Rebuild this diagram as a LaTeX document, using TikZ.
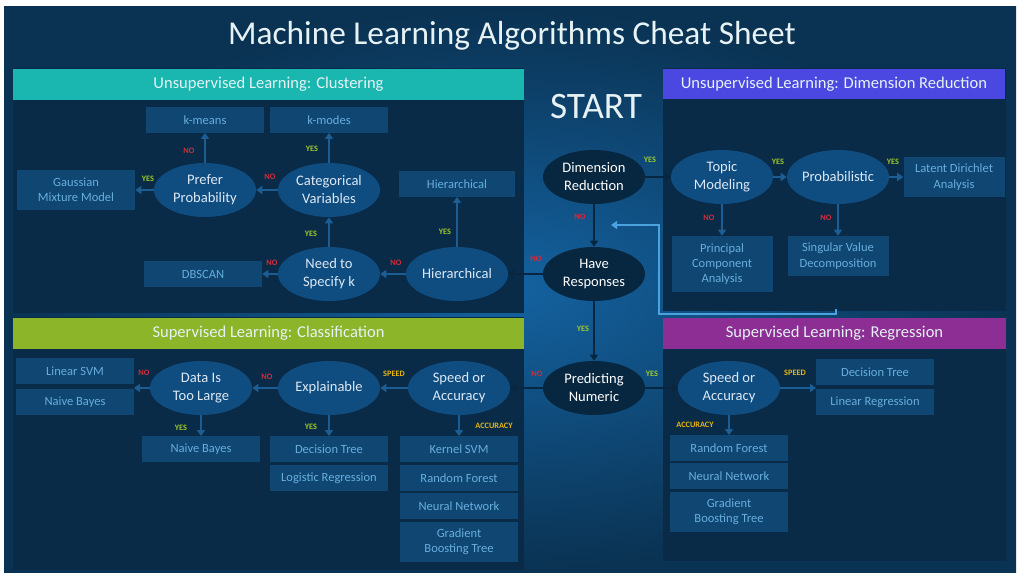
\documentclass[tikz,border=0pt]{standalone}
\usepackage{fontspec}
\setmainfont{Carlito}
\usetikzlibrary{shapes.geometric,arrows.meta}
\definecolor{bgdark}{HTML}{0A3252}
\definecolor{bgmid}{HTML}{1462A0}
\definecolor{panel}{HTML}{0A2B47}
\definecolor{boxfill}{HTML}{0F4672}
\definecolor{boxtext}{HTML}{68AEDE}
\definecolor{qfill}{HTML}{0F4C80}
\definecolor{qtext}{HTML}{DCE9F5}
\definecolor{hubfill}{HTML}{07263F}
\definecolor{flowblue}{HTML}{1C5D94}
\definecolor{fbblue}{HTML}{4AA3DE}
\definecolor{headtext}{HTML}{E6F2F4}
\definecolor{hteal}{HTML}{19B7AF}
\definecolor{hviolet}{HTML}{4A48E0}
\definecolor{hgreen}{HTML}{8DB52A}
\definecolor{hmagenta}{HTML}{8C2E94}
\definecolor{yescol}{HTML}{9CC92B}
\definecolor{nocol}{HTML}{D42B3C}
\definecolor{pickcol}{HTML}{E6B50E}

\begin{document}
\begin{tikzpicture}[x=0.75pt,y=-0.75pt]
	\tikzstyle{every node}+=[inner sep=0pt]
	\tikzstyle{algo}=[fill=boxfill, text=boxtext, minimum width=88.5pt, minimum height=19pt, align=center, font=\fontsize{9.4}{11.5}\selectfont]
	\tikzstyle{algotall}=[algo, minimum height=30pt]
	\tikzstyle{question}=[ellipse, fill=qfill, text=qtext, minimum width=76.5pt, minimum height=40.5pt, align=center, font=\fontsize{10.9}{13.5}\selectfont]
	\tikzstyle{hub}=[question, fill=hubfill, text=white]
	\tikzstyle{header}=[minimum height=23pt, text=headtext, font=\fontsize{12.4}{14}\selectfont]
	\tikzstyle{flow}=[draw=flowblue, line width=1.1pt, -{Triangle[length=4.5pt,width=6pt]}]
	\tikzstyle{hubflow}=[flow, draw=hubfill]
	\tikzstyle{feedback}=[draw=fbblue, line width=1.1pt, -{Triangle[length=4.5pt,width=6pt]}]
	\tikzstyle{yes}=[text=yescol, font=\bfseries\fontsize{6.2}{7}\selectfont]
	\tikzstyle{no}=[yes, text=nocol]
	\tikzstyle{pick}=[yes, text=pickcol]

	\useasboundingbox (0,0) rectangle (1024,580);
	\fill[white] (0,0) rectangle (1024,580);
	\shade[inner color=bgmid, outer color=bgdark] (4,7) rectangle (1016,572);

	\fill[panel] (13,68) rectangle (524,313);
	\fill[panel] (663,68) rectangle (1006,311);
	\fill[panel] (13,317) rectangle (524,570);
	\fill[panel] (663,318) rectangle (1006,561);

	\node[header, fill=hteal, minimum width=383.25pt] (hclust) at (268.5,84.5) {Unsupervised Learning: Clustering};
	\node[header, fill=hviolet, minimum width=256.5pt] (hdim) at (834,84) {Unsupervised Learning: Dimension Reduction};
	\node[header, fill=hgreen, minimum width=383.25pt] (hcls) at (268.5,333.5) {Supervised Learning: Classification};
	\node[header, fill=hmagenta, minimum width=257.25pt] (hreg) at (834.5,333.5) {Supervised Learning: Regression};

	\node[text=headtext, font=\fontsize{25}{30}\selectfont] (title) at (512,36) {Machine Learning Algorithms Cheat Sheet};
	\node[text=headtext, font=\fontsize{28}{32}\selectfont] (start) at (596,107) {START};

	\node[hub] (dimred) at (594,177) {Dimension\\Reduction};
	\node[hub] (haveresp) at (594,274) {Have\\Responses};
	\node[hub] (predict) at (594,388) {Predicting\\Numeric};

	\node[algo] (kmeans) at (205,120) {k-means};
	\node[algo] (kmodes) at (329,120) {k-modes};
	\node[algotall] (gmm) at (76,190) {Gaussian\\Mixture Model};
	\node[question] (prefer) at (205,190) {Prefer\\Probability};
	\node[question] (categ) at (329,190) {Categorical\\Variables};
	\node[algo, minimum width=87pt] (hierbox) at (457,184) {Hierarchical};
	\node[question] (needk) at (329,274) {Need to\\Specify k};
	\node[question] (hierq) at (457,274) {Hierarchical};
	\node[algo] (dbscan) at (203,274) {DBSCAN};

	\node[question] (topic) at (722,177) {Topic\\Modeling};
	\node[question] (prob) at (838,177) {Probabilistic};
	\node[algotall, minimum width=75.75pt] (lda) at (954,177) {Latent Dirichlet\\Analysis};
	\node[algo, minimum width=75.75pt, minimum height=42pt] (pca) at (722,264) {Principal\\Component\\Analysis};
	\node[algotall, minimum width=75.75pt] (svd) at (838,256) {Singular Value\\Decomposition};

	\node[algo] (linsvm) at (75,371) {Linear SVM};
	\node[algo] (nbleft) at (75,402) {Naive Bayes};
	\node[question] (datalarge) at (201,388) {Data Is\\Too Large};
	\node[question] (explain) at (329,388) {Explainable};
	\node[question] (speedcls) at (459,388) {Speed or\\Accuracy};
	\node[algo] (nbmid) at (201,449) {Naive Bayes};
	\node[algo] (dtcls) at (329,449) {Decision Tree};
	\node[algo] (logreg) at (329,478) {Logistic Regression};
	\node[algo] (kernel) at (459,449) {Kernel SVM};
	\node[algo] (rfcls) at (459,478) {Random Forest};
	\node[algo] (nncls) at (459,506) {Neural Network};
	\node[algotall] (gbtcls) at (459,542) {Gradient\\Boosting Tree};

	\node[question] (speedreg) at (729,388) {Speed or\\Accuracy};
	\node[algo] (dtreg) at (875,372) {Decision Tree};
	\node[algo] (linreg) at (875,402) {Linear Regression};
	\node[algo] (rfreg) at (729,448) {Random Forest};
	\node[algo] (nnreg) at (729,476) {Neural Network};
	\node[algotall] (gbtreg) at (729,512) {Gradient\\Boosting Tree};

	\coordinate (clsgap) at (134,388);
	\coordinate (reggap) at (816,388);
	\coordinate (fbstart) at (836,309);
	\coordinate (fbend) at (611,225);

	\draw[flow] (prefer) -- (kmeans);
	\draw[flow] (prefer) -- (gmm);
	\draw[flow] (categ) -- (kmodes);
	\draw[flow] (categ) -- (prefer);
	\draw[flow] (needk) -- (categ);
	\draw[flow] (needk) -- (dbscan);
	\draw[flow] (hierq) -- (needk);
	\draw[flow] (hierq) -- (hierbox);

	\draw[hubflow] (dimred) -- (topic);
	\draw[hubflow] (dimred) -- (haveresp);
	\draw[hubflow] (haveresp) -- (hierq);
	\draw[hubflow] (haveresp) -- (predict);
	\draw[hubflow] (predict) -- (speedcls);
	\draw[hubflow] (predict) -- (speedreg);

	\draw[flow] (topic) -- (prob);
	\draw[flow] (prob) -- (lda);
	\draw[flow] (topic) -- (pca);
	\draw[flow] (prob) -- (svd);
	\draw[feedback] (fbstart) -- ++(0,5) -| (659,225) -- (fbend);

	\draw[flow] (speedcls) -- (explain);
	\draw[flow] (explain) -- (datalarge);
	\draw[flow] (datalarge) -- (clsgap);
	\draw[flow] (datalarge) -- (nbmid);
	\draw[flow] (explain) -- (dtcls);
	\draw[flow] (speedcls) -- (kernel);

	\draw[flow] (speedreg) -- (reggap);
	\draw[flow] (speedreg) -- (rfreg);

	\node[no] at (189,151) {NO};
	\node[yes] at (312,149) {YES};
	\node[yes] at (148,179) {YES};
	\node[no] at (270,177) {NO};
	\node[yes] at (311,234) {YES};
	\node[yes] at (445,232) {YES};
	\node[no] at (272,263) {NO};
	\node[no] at (396,263) {NO};

	\node[yes] at (650,160) {YES};
	\node[yes] at (778,162) {YES};
	\node[yes] at (893,162) {YES};
	\node[no] at (709,218) {NO};
	\node[no] at (826,218) {NO};
	\node[no] at (580,217) {NO};
	\node[no] at (536,259) {NO};

	\node[yes] at (583,329) {YES};
	\node[no] at (537,374) {NO};
	\node[yes] at (652,374) {YES};

	\node[no] at (144,373) {NO};
	\node[no] at (267,377) {NO};
	\node[pick] at (394,374) {SPEED};
	\node[yes] at (181,428) {YES};
	\node[yes] at (311,427) {YES};
	\node[pick] at (494,426) {ACCURACY};

	\node[pick] at (795,373) {SPEED};
	\node[pick] at (695,425) {ACCURACY};
\end{tikzpicture}
\end{document}
